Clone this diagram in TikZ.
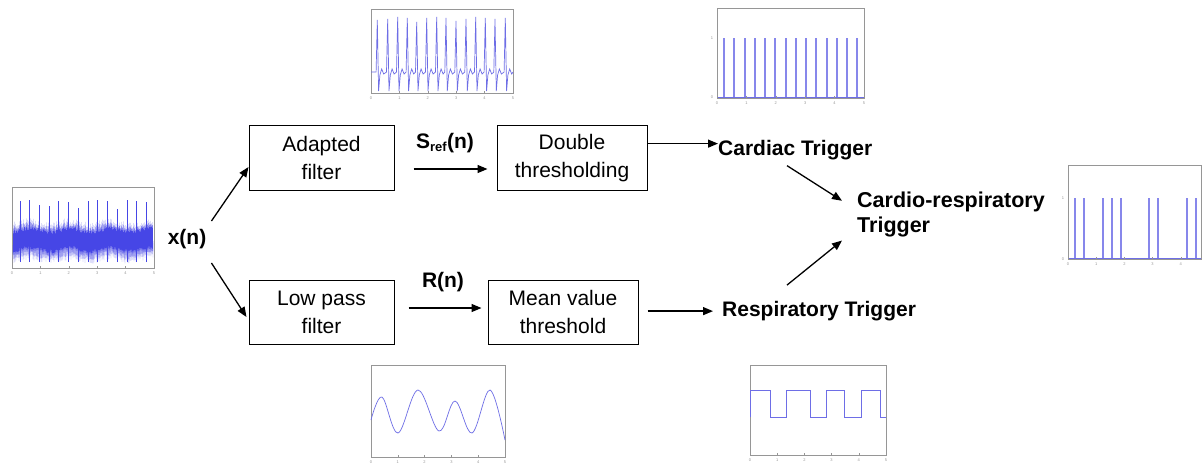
\documentclass[tikz,border=0pt]{standalone}
\usepackage{fontspec}
\setmainfont{Liberation Sans}
\usetikzlibrary{arrows.meta}

\definecolor{sigblue}{RGB}{110,110,230}
\definecolor{sigpale}{RGB}{135,135,235}
\definecolor{sigdark}{RGB}{70,70,230}
\definecolor{siglight}{RGB}{160,160,240}
\definecolor{framegray}{RGB}{150,150,150}

\tikzset{
  block/.style={draw, line width=1pt, minimum width=145pt, minimum height=65pt, align=center, font=\fontsize{21}{28}\selectfont},
  lbl/.style={inner sep=0pt, font=\fontsize{21}{25}\selectfont\bfseries},
  arr/.style={line width=1.3pt, -{Triangle[length=10pt,width=8pt]}},
  frame/.style={draw=framegray, line width=0.6pt, fill=white},
  sig/.style={color=sigblue, line width=0.7pt},
  trig/.style={color=sigpale, line width=1.6pt},
  ticklbl/.style={text=framegray, inner sep=0pt, font=\fontsize{4}{4}\selectfont},
}

\begin{document}
\begin{tikzpicture}[x=1pt,y=1pt,yscale=-1,xscale=1]
\useasboundingbox (0,0) rectangle (1203,466);

%Plot: input signal
\draw[frame] (12,187) rectangle (154,268);
\pgfmathsetseed{7}
\draw[color=siglight, line width=0.4pt] plot[domain=0:280, samples=281] ({13+\x/2}, {241+2*sin((13+\x/2)*9)+(15+6*rnd)*(1-2*mod(round(\x),2))});
\draw[color=sigdark, line width=0.4pt] plot[domain=0:280, samples=281] ({13+\x/2}, {240+2*sin((13+\x/2)*9)+(10+4*rnd)*(1-2*mod(round(\x),2))});
\foreach \px/\top in {20/201,29.3/200,39.3/205,49/206,58.7/201,68.3/202,78.3/208,88/201,97.7/200,107.3/201,117.3/209,127/200,136.7/201,146/202}
  \draw[color=sigdark, line width=0.8pt] (\px,262) -- (\px,\top);
\foreach \k in {0,...,5} {
  \draw[framegray, line width=0.4pt] ({12+\k*28.4},268) -- ({12+\k*28.4},266);
  \node[ticklbl] (tin\k) at ({12+\k*28.4},273) {\k};
}

%Plot: adapted filter output
\draw[frame] (371,9) rectangle (513,93);
\draw[sig] (371,72) \foreach \px/\top in {377.3/20,387.7/19,397.7/17,407.3/18,416.7/22,426.7/18,436.7/17,446/18,456/21,466/19,475.7/17,485.3/18,495/19,505.3/18} { -- ({\px-1.2},72) -- (\px,\top) -- ({\px+1.3},91) -- ({\px+2.6},75) -- ({\px+4.4},69) -- ({\px+6.4},74) } -- (513,72);
\foreach \k in {0,...,5} {
  \draw[framegray, line width=0.4pt] ({371+\k*28.4},93) -- ({371+\k*28.4},91);
  \node[ticklbl] (tsr\k) at ({371+\k*28.4},98) {\k};
}

%Plot: cardiac trigger
\draw[frame] (717,8) rectangle (864,98);
\foreach \px in {724,734,745,755,765,775,786,796,806,816,827,837,847,857}
  \draw[trig] (\px,97) -- (\px,38);
\draw[sig] (717,97) -- (864,97);
\foreach \k in {0,...,5} {
  \draw[framegray, line width=0.4pt] ({717+\k*29.4},98) -- ({717+\k*29.4},96);
  \node[ticklbl] (tct\k) at ({717+\k*29.4},103) {\k};
}
\node[ticklbl] (tcy1) at (712,38) {1};
\node[ticklbl] (tcy0) at (712,97) {0};

%Plot: low pass output
\draw[frame] (371,365) rectangle (505,457);
\draw[sig] plot[smooth, tension=0.6] coordinates {(371,420) (382,397) (398,433) (418,390) (439,431) (455,401) (472,433) (490,390) (505,440)};
\foreach \k in {0,...,5} {
  \draw[framegray, line width=0.4pt] ({371+\k*26.8},457) -- ({371+\k*26.8},455);
  \node[ticklbl] (tlp\k) at ({371+\k*26.8},462) {\k};
}

%Plot: respiratory trigger
\draw[frame] (750,365) rectangle (886,455);
\draw[sig] (750,417) -- (750,390) -- (770,390) -- (770,417) -- (786,417) -- (786,390) -- (810,390) -- (810,417) -- (826,417) -- (826,390) -- (844,390) -- (844,417) -- (861,417) -- (861,390) -- (880,390) -- (880,417) -- (886,417);
\foreach \k in {0,...,5} {
  \draw[framegray, line width=0.4pt] ({750+\k*27.2},455) -- ({750+\k*27.2},453);
  \node[ticklbl] (trt\k) at ({750+\k*27.2},460) {\k};
}

%Plot: cardio-respiratory trigger
\draw[frame] (1068,165) rectangle (1201,259);
\foreach \px in {1075,1084,1103,1112,1121,1149,1158,1187,1196}
  \draw[trig] (\px,259) -- (\px,198);
\draw[sig] (1068,258.5) -- (1201,258.5);
\foreach \k in {0,...,4} {
  \draw[framegray, line width=0.4pt] ({1068+\k*28.2},259) -- ({1068+\k*28.2},257);
  \node[ticklbl] (tcr\k) at ({1068+\k*28.2},264) {\k};
}
\node[ticklbl] (tcry1) at (1063,198) {1};
\node[ticklbl] (tcry0) at (1063,259) {0};

%Blocks
\node[block] (adapt) at (321.5,158) {Adapted\\filter};
\node[block, minimum width=150pt] (dbl) at (572,158) {Double\\thresholding};
\node[block, minimum height=64pt] (lowpass) at (321.5,312) {Low pass\\filter};
\node[block, minimum width=150pt, minimum height=64pt] (meanval) at (563,312) {Mean value\\threshold};

% Text Node
\node[lbl] (xn) at (187,239) {x(n)};
% Text Node
\node[lbl] (sref) at (445,143) {S\textsubscript{\fontsize{13}{13}\selectfont ref}(n)};
% Text Node
\node[lbl] (rn) at (443,282) {R(n)};
% Text Node
\node[lbl, anchor=base west] (cardiac) at (718,155) {Cardiac Trigger};
% Text Node
\node[lbl, anchor=base west] (resp) at (722,316.5) {Respiratory Trigger};
% Text Node
\node[lbl, anchor=north west, align=left, font=\fontsize{21.5}{25}\selectfont\bfseries] (cardioresp) at (857,192) {Cardio-respiratory\\Trigger};

%Connectors
\draw[arr] ([xshift=5pt,yshift=-8pt]xn.north east) -- ([yshift=9pt]adapt.west);
\draw[arr] ([xshift=5pt,yshift=14pt]xn.south east) -- ([xshift=-2pt,yshift=5pt]lowpass.west);
\draw[arr] ([xshift=19pt,yshift=11pt]adapt.east) -- ([xshift=-9pt,yshift=11pt]dbl.west);
\draw[arr] ([xshift=14pt,yshift=-4pt]lowpass.east) -- ([xshift=-6pt,yshift=-4pt]meanval.west);
\draw[arr] ([yshift=-6pt]dbl.east |- cardiac.west) -- ([yshift=-6pt]cardiac.west);
\draw[arr] ([xshift=9pt]meanval.east |- resp.west) -- ([xshift=-9pt]resp.west);
\draw[arr] ([xshift=69pt,yshift=6pt]cardiac.south west) -- ([xshift=-15pt,yshift=-14pt]cardioresp.west);
\draw[arr] ([xshift=65pt,yshift=-16pt]resp.north west) -- ([xshift=-15pt,yshift=3pt]cardioresp.south west);

\end{tikzpicture}
\end{document}
